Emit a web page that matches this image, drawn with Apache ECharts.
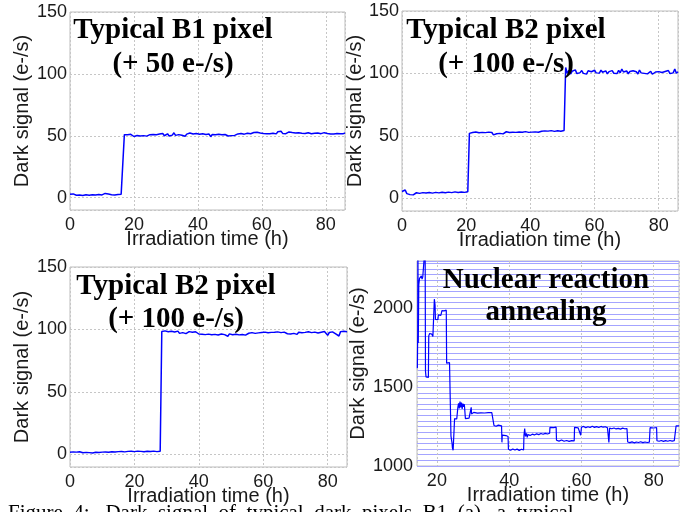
<!DOCTYPE html>
<html>
<head>
<meta charset="utf-8">
<script src="https://cdn.jsdelivr.net/npm/echarts@6/dist/echarts.min.js"></script>
<style>
  html, body { margin: 0; padding: 0; background: #ffffff; }
  #chart { width: 697px; height: 512px; }
</style>
</head>
<body>
<div id="chart"></div>
<script>
// Dark signal of single pixels recorded every 0.5 h during irradiation.
const SAMPLE_STEP_H = 0.5;

// Typical B1 pixel: one +50 e-/s jump
const b1Signal = [
  2.8,2.1,3.0,2.4,1.9,2.9,2.2,2.7,1.8,3.1,
  2.3,2.6,2.0,2.9,2.4,3.2,2.1,2.7,2.5,3.0,
  2.2,2.8,3.4,2.3,2.9,3.6,2.4,2.6,2.1,3.0,
  2.5,2.2,2.8,2.4,
  50.9,49.6,50.8,49.9,51.2,50.1,49.4,50.7,50.2,51.0,
  49.8,50.6,50.1,51.3,49.7,50.4,50.9,49.6,51.1,50.3,
  50.8,49.9,51.4,50.2,51.9,50.0,50.7,51.6,49.8,51.2,
  50.5,52.4,50.3,51.5,50.9,52.0,50.4,51.7,49.6,51.3,
  50.6,52.2,50.8,51.4,50.1,51.8,50.7,51.2,50.4,51.6,
  50.2,51.0,50.5,51.4,49.2,51.1,50.3,50.9,49.9,51.3,
  50.2,50.8,49.7,51.0,50.4,49.8,50.9,50.1,51.2,50.3,
  50.7,51.5,50.4,51.8,50.6,51.3,50.9,52.0,50.8,51.6,
  51.4,52.6,51.2,52.9,51.8,52.3,53.4,51.9,52.8,51.7,
  52.5,51.6,53.0,52.1,52.7,51.5,53.2,52.4,53.6,51.9,
  52.8,51.7,52.3,53.1,51.8,52.6,51.4,52.2,51.0,52.5,
  51.3,52.1,50.9,51.8,51.2,52.4,50.8,51.6,51.0,52.0,
  51.4,52.2,50.9,51.7,51.3,52.5,51.1,51.9,52.3,51.5,
  52.6,51.4,52.1,51.8,52.9,51.6,52.4,51.7,52.2
];

// Typical B2 pixel: two successive +50 e-/s jumps
const b2Signal = [
  5.6,4.2,6.8,3.9,4.8,3.1,4.5,2.9,3.8,4.6,
  3.3,4.1,3.6,4.7,3.2,4.4,3.9,4.8,3.5,4.3,
  4.0,4.9,3.7,4.5,4.1,5.0,3.8,4.6,4.2,5.1,
  3.9,4.7,4.4,5.3,4.0,4.8,4.5,5.2,4.1,4.9,
  4.6,5.4,
  52.1,51.0,52.8,51.6,53.2,51.9,52.6,51.3,52.9,52.0,
  52.7,51.5,53.1,52.2,52.8,50.9,52.4,51.8,53.3,52.1,
  52.9,51.7,52.5,53.4,52.0,52.8,51.6,53.0,52.3,52.9,
  51.9,53.2,52.4,53.0,52.2,53.5,52.6,52.9,51.8,53.1,
  52.5,53.3,52.7,53.0,
  54.6,53.8,55.2,54.1,54.9,53.9,55.4,54.3,54.8,53.7,
  55.1,54.2,54.7,53.8,55.0,54.4,
  104.8,100.2,102.5,99.6,101.8,100.4,102.9,99.9,101.3,100.7,
  102.4,100.1,101.7,99.5,102.2,100.8,101.4,99.8,102.6,100.5,
  101.9,100.3,102.7,101.0,100.4,102.1,99.7,101.5,100.9,102.3,
  100.2,101.8,99.9,102.5,100.6,103.6,101.2,100.4,102.0,99.8,
  101.6,100.3,102.2,100.9,101.4,99.6,102.8,100.5,101.7,100.1,
  101.3,99.7,100.9,101.8,99.4,100.6,101.2,99.8,101.5,100.2,
  100.8,99.5,101.6,100.3,102.4,99.9,101.0,100.5,103.6,100.2,
  101.4
];

// Typical B2 pixel: a single +100 e-/s jump
const b2SingleSignal = [
  1.8,1.2,2.1,1.5,1.9,1.3,2.2,1.6,1.4,2.0,
  1.7,2.3,1.5,1.9,1.2,2.1,1.8,2.4,1.6,2.2,
  1.9,2.6,2.0,2.4,1.8,2.7,2.2,2.5,2.0,2.8,
  2.3,3.0,2.4,2.7,2.1,2.9,2.5,3.2,2.6,2.9,
  2.3,3.1,2.7,3.3,2.5,2.9,2.2,3.0,2.6,2.8,
  2.4,3.1,2.7,2.9,2.3,3.0,2.6,
  98.4,97.1,98.9,97.6,98.2,96.8,98.6,97.3,98.0,
  97.2,98.7,96.9,98.1,97.5,98.8,96.7,97.9,98.3,97.0,
  97.8,96.5,98.2,97.1,96.4,97.7,96.2,97.4,95.9,97.0,
  96.3,97.5,95.8,96.9,96.1,97.3,95.6,96.8,96.4,97.2,
  95.9,96.7,94.6,96.5,97.1,95.8,96.9,96.2,97.4,95.7,
  96.8,96.0,97.2,95.5,96.6,97.0,96.1,97.5,95.9,96.9,
  96.4,97.3,95.9,97.6,96.6,97.9,96.8,97.4,96.2,97.7,
  96.9,97.8,96.5,98.1,96.7,97.5,96.3,97.9,97.1,96.6,
  97.6,96.4,98.0,96.9,97.3,96.1,97.8,96.5,97.4,96.8,
  97.7,96.3,98.2,96.9,97.5,96.0,97.9,96.6,97.2,96.4,
  97.8,96.7,98.4,97.0,95.4,97.6,96.8,98.1,97.2,96.5,
  97.9,94.8,98.3,97.4,98.6,97.1,98.2
];

// Nuclear reaction pixel with random telegraph steps and annealing
const nraTime = [
  14.6,14.7,14.75,14.85,15.0,15.2,15.5,15.7,15.9,16.1,16.4,16.6,16.75,16.85,17.0,17.3,17.5,17.65,
  17.75,18.0,18.3,18.6,18.9,19.1,19.3,19.5,19.6,19.9,20.1,20.3,20.4,20.8,21.1,21.3,21.4,21.7,22.0,
  22.3,22.6,22.7,23.1,23.5,23.8,23.9,24.1,24.2,24.3,24.5,24.8,24.9,25.2,25.5,25.7,25.8,26.0,26.2,
  26.4,26.6,26.8,27.0,27.2,27.4,27.6,27.8,27.9,28.4,28.9,29.3,29.5,29.6,30.0,30.2,30.7,31.2,31.7,
  32.2,32.7,33.2,33.7,34.2,34.7,35.2,35.7,35.8,36.4,37.0,37.5,37.9,38.0,38.1,38.6,39.1,39.7,39.8,
  40.4,41.0,41.6,42.2,42.8,43.4,44.0,44.1,44.3,44.5,44.8,45.0,45.2,45.8,46.4,47.0,47.6,48.2,48.8,
  49.4,50.0,50.6,51.2,51.3,51.8,52.3,52.8,53.0,53.1,53.8,54.5,55.2,55.9,56.6,57.3,58.0,58.1,58.6,
  59.1,59.6,59.8,60.0,60.6,61.2,61.8,62.4,63.0,63.6,64.2,64.8,65.4,66.0,66.6,67.2,67.5,67.6,67.8,
  68.4,69.0,69.6,70.2,70.8,71.4,72.0,72.6,72.8,73.4,74.0,74.6,75.2,75.8,76.4,77.0,77.6,78.2,78.8,
  79.0,79.5,80.0,80.5,80.8,80.9,81.5,82.1,82.7,83.3,83.9,84.5,85.1,85.7,86.1,86.2,86.6,87.0
];
const nraSignal = [
  1620,1850,2400,1780,2150,2190,2180,2205,2185,2200,2190,2200,2400,1600,1565,1558,1570,1562,
  1825,1840,1828,1836,1822,1830,2058,2020,1930,1922,1935,1928,1958,1966,1955,1962,1985,1992,1984,
  1995,1988,1652,1646,1655,1648,1190,1180,1145,1115,1100,1108,1300,1308,1298,1305,1370,1398,1365,
  1408,1372,1402,1362,1396,1375,1392,1380,1300,1296,1303,1298,1372,1330,1326,1340,1346,1335,1344,
  1337,1347,1336,1343,1338,1346,1339,1342,1257,1252,1259,1250,1255,1150,1196,1188,1193,1187,1106,
  1100,1108,1101,1107,1099,1106,1102,1195,1238,1188,1207,1182,1199,1194,1202,1197,1204,1199,1206,
  1201,1207,1203,1208,1245,1252,1243,1249,1246,1163,1158,1165,1157,1162,1156,1161,1159,1245,1250,
  1242,1247,1195,1246,1251,1243,1249,1244,1252,1245,1250,1244,1251,1246,1249,1243,1247,1150,1240,
  1236,1241,1235,1239,1234,1240,1236,1238,1152,1148,1153,1147,1152,1149,1154,1148,1152,1149,1151,
  1243,1247,1241,1246,1244,1160,1157,1162,1156,1161,1157,1162,1158,1161,1159,1255,1258,1254
];

const panelTitles = [
  ['Typical B1 pixel', '(+ 50 e-/s)'],
  ['Typical B2 pixel', '(+ 100 e-/s)'],
  ['Typical B2 pixel', '(+ 100 e-/s)'],
  ['Nuclear reaction', 'annealing']
];
const xAxisName = 'Irradiation time (h)';
const yAxisName = 'Dark signal (e-/s)';
const captionText = 'Figure  4:   Dark  signal  of  typical  dark  pixels  B1  (a),  a  typical';

function sampled(values) {
  return values.map((v, i) => [i * SAMPLE_STEP_H, v]);
}
function paired(xs, ys) {
  return xs.map((x, i) => [x, ys[i]]);
}

const SANS = 'Liberation Sans';
const SERIF = 'Liberation Serif';
const TEXT = '#1a1a1a';
const GRID_DOT = { color: '#c6c6c6', type: [2, 2], width: 1 };
const NRA_LINE = '#a4a4ff';

const grids = [
  { left: 70,  top: 12,  width: 275, height: 198 },
  { left: 402, top: 11,  width: 276, height: 200 },
  { left: 70,  top: 267, width: 277, height: 200 },
  { left: 417, top: 261, width: 262, height: 205 }
].map(g => Object.assign({ show: true, borderColor: '#bdbdbd', borderWidth: 1, backgroundColor: '#fff' }, g));

function xAxis(i, extra) {
  return Object.assign({
    type: 'value', gridIndex: i,
    min: 0, max: 86, interval: 20,
    axisLine: { show: false }, axisTick: { show: false },
    axisLabel: { fontSize: 18, color: TEXT, fontFamily: SANS, margin: 6, showMaxLabel: false },
    splitLine: { show: true, lineStyle: GRID_DOT },
    name: xAxisName, nameLocation: 'middle', nameGap: 19, nameMoveOverlap: false,
    nameTextStyle: { fontSize: 20, color: TEXT, fontFamily: SANS }
  }, extra || {});
}
function yAxis(i, gap, extra) {
  return Object.assign({
    type: 'value', gridIndex: i,
    min: -10, max: 150, splitNumber: 3,
    axisLine: { show: false }, axisTick: { show: false },
    axisLabel: { fontSize: 18, color: TEXT, fontFamily: SANS, margin: 3, showMinLabel: false },
    splitLine: { show: true, lineStyle: GRID_DOT },
    name: yAxisName, nameLocation: 'middle', nameGap: gap, nameMoveOverlap: false,
    nameTextStyle: { fontSize: 20, color: TEXT, fontFamily: SANS }
  }, extra || {});
}

const lineBase = {
  type: 'line', showSymbol: false, symbol: 'none', sampling: null,
  lineStyle: { color: '#0000ff', width: 1.5 }, itemStyle: { color: '#0000ff' },
  animation: false, clip: true
};

// Title blocks drawn inside each panel
const titleCenters = [
  { x: 173, y1: 31, y2: 65 },
  { x: 506, y1: 31, y2: 65 },
  { x: 176, y1: 287, y2: 320 },
  { x: 546, y1: 281, y2: 313 }
];
const graphics = [];
titleCenters.forEach((c, i) => {
  [c.y1, c.y2].forEach((y, k) => {
    graphics.push({
      type: 'text', x: c.x, y: y, z: 100,
      style: {
        text: panelTitles[i][k], fill: '#000',
        font: 'bold 29px "' + SERIF + '"',
        align: 'center', verticalAlign: 'middle'
      }
    });
  });
});
graphics.push({
  type: 'text', x: 8, y: 513, z: 100,
  style: { text: captionText, fill: '#000', font: '21px "' + SERIF + '"', align: 'left', verticalAlign: 'middle' }
});

const chart = echarts.init(document.getElementById('chart'), null, { renderer: 'canvas' });
chart.setOption({
  animation: false,
  backgroundColor: '#ffffff',
  grid: grids,
  xAxis: [
    xAxis(0), xAxis(1), xAxis(2),
    xAxis(3, {
      min: 14.5, max: 87, interval: null, splitNumber: 4,
      axisLabel: { fontSize: 18, color: TEXT, fontFamily: SANS, margin: 6, showMinLabel: false, showMaxLabel: false }
    })
  ],
  yAxis: [
    yAxis(0, 38), yAxis(1, 37), yAxis(2, 38),
    yAxis(3, 49, {
      min: 1000, max: 2300, splitNumber: null, interval: 500 / 14,
      axisLabel: {
        fontSize: 18, color: TEXT, fontFamily: SANS, margin: 4,
        formatter: v => Math.abs(v / 500 - Math.round(v / 500)) < 1e-6 ? String(Math.round(v)) : ''
      },
      splitLine: { show: true, lineStyle: { color: NRA_LINE, width: 1, type: 'solid' } }
    })
  ],
  series: [
    Object.assign({}, lineBase, { xAxisIndex: 0, yAxisIndex: 0, data: sampled(b1Signal) }),
    Object.assign({}, lineBase, { xAxisIndex: 1, yAxisIndex: 1, data: sampled(b2Signal) }),
    Object.assign({}, lineBase, { xAxisIndex: 2, yAxisIndex: 2, data: sampled(b2SingleSignal) }),
    Object.assign({}, lineBase, { xAxisIndex: 3, yAxisIndex: 3, data: paired(nraTime, nraSignal), lineStyle: { color: '#0000ff', width: 1.2 } })
  ],
  graphic: graphics
});
</script>
</body>
</html>
